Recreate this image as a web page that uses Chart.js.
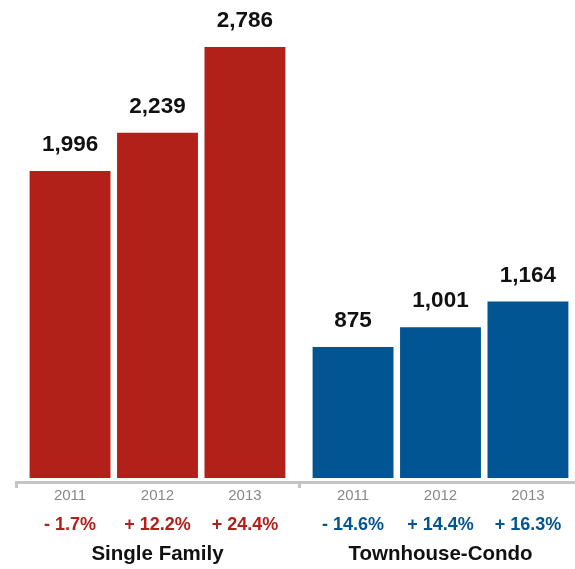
<!DOCTYPE html>
<html>
<head>
<meta charset="utf-8">
<script src="https://cdn.jsdelivr.net/npm/chart.js@4"></script>
<style>
  html, body { margin: 0; padding: 0; background: #fff; overflow: hidden; }
  #wrap { width: 582px; height: 569px; }
</style>
</head>
<body>
<div id="wrap"><canvas id="salesChart" width="582" height="569"></canvas></div>
<script>
const groups = ["Single Family", "Townhouse-Condo"];
const years = ["2011", "2012", "2013"];
const singleFamily = [1996, 2239, 2786];
const townhouseCondo = [875, 1001, 1164];
const singleFamilyChange = ["- 1.7%", "+ 12.2%", "+ 24.4%"];
const townhouseCondoChange = ["- 14.6%", "+ 14.4%", "+ 16.3%"];

const groupColors = ["#B2201A", "#005592"];
const changes = [singleFamilyChange, townhouseCondoChange];
const FONT = "'Liberation Sans', Arial, Helvetica, sans-serif";

// One dataset per year, one bar per housing type
const datasets = years.map((year, i) => ({
  label: year,
  data: [singleFamily[i], townhouseCondo[i]],
  backgroundColor: groupColors,
  base: 41,
  categoryPercentage: 0.927,
  barPercentage: 0.925
}));

// Value above each bar; year, change and group name below the axis
const barLabels = {
  id: "barLabels",
  afterDatasetsDraw(chart) {
    const ctx = chart.ctx;
    const xScale = chart.scales.x;
    ctx.save();
    ctx.textAlign = "center";
    ctx.textBaseline = "alphabetic";
    chart.data.datasets.forEach((ds, i) => {
      const meta = chart.getDatasetMeta(i);
      meta.data.forEach((bar, j) => {
        ctx.fillStyle = "#111";
        ctx.font = "bold 22.5px " + FONT;
        ctx.fillText(ds.data[j].toLocaleString("en-US"), bar.x, bar.y - 20);

        ctx.fillStyle = "#888";
        ctx.font = "15px " + FONT;
        ctx.fillText(years[i], bar.x, 500);

        ctx.fillStyle = groupColors[j];
        ctx.font = "bold 18px " + FONT;
        ctx.fillText(changes[j][i], bar.x, 530);
      });
    });
    ctx.fillStyle = "#111";
    ctx.font = "bold 20.5px " + FONT;
    groups.forEach((name, j) => {
      ctx.fillText(name, xScale.getPixelForValue(j), 560);
    });
    ctx.restore();
  }
};

new Chart(document.getElementById("salesChart"), {
  type: "bar",
  data: { labels: groups, datasets },
  options: {
    responsive: false,
    animation: false,
    layout: { padding: { left: 16, right: 0, top: 0, bottom: 0 } },
    plugins: {
      legend: { display: false },
      tooltip: { enabled: false }
    },
    scales: {
      x: {
        afterFit(scale) { scale.height = 87; },
        grid: {
          offset: true,
          drawOnChartArea: false,
          drawTicks: true,
          tickLength: 6,
          color: "#c4c4c4",
          lineWidth: 3
        },
        border: { display: true, color: "#c4c4c4", width: 3 },
        ticks: { display: false }
      },
      y: {
        display: false,
        min: 15,
        max: 3085
      }
    }
  },
  plugins: [barLabels]
});
</script>
</body>
</html>
